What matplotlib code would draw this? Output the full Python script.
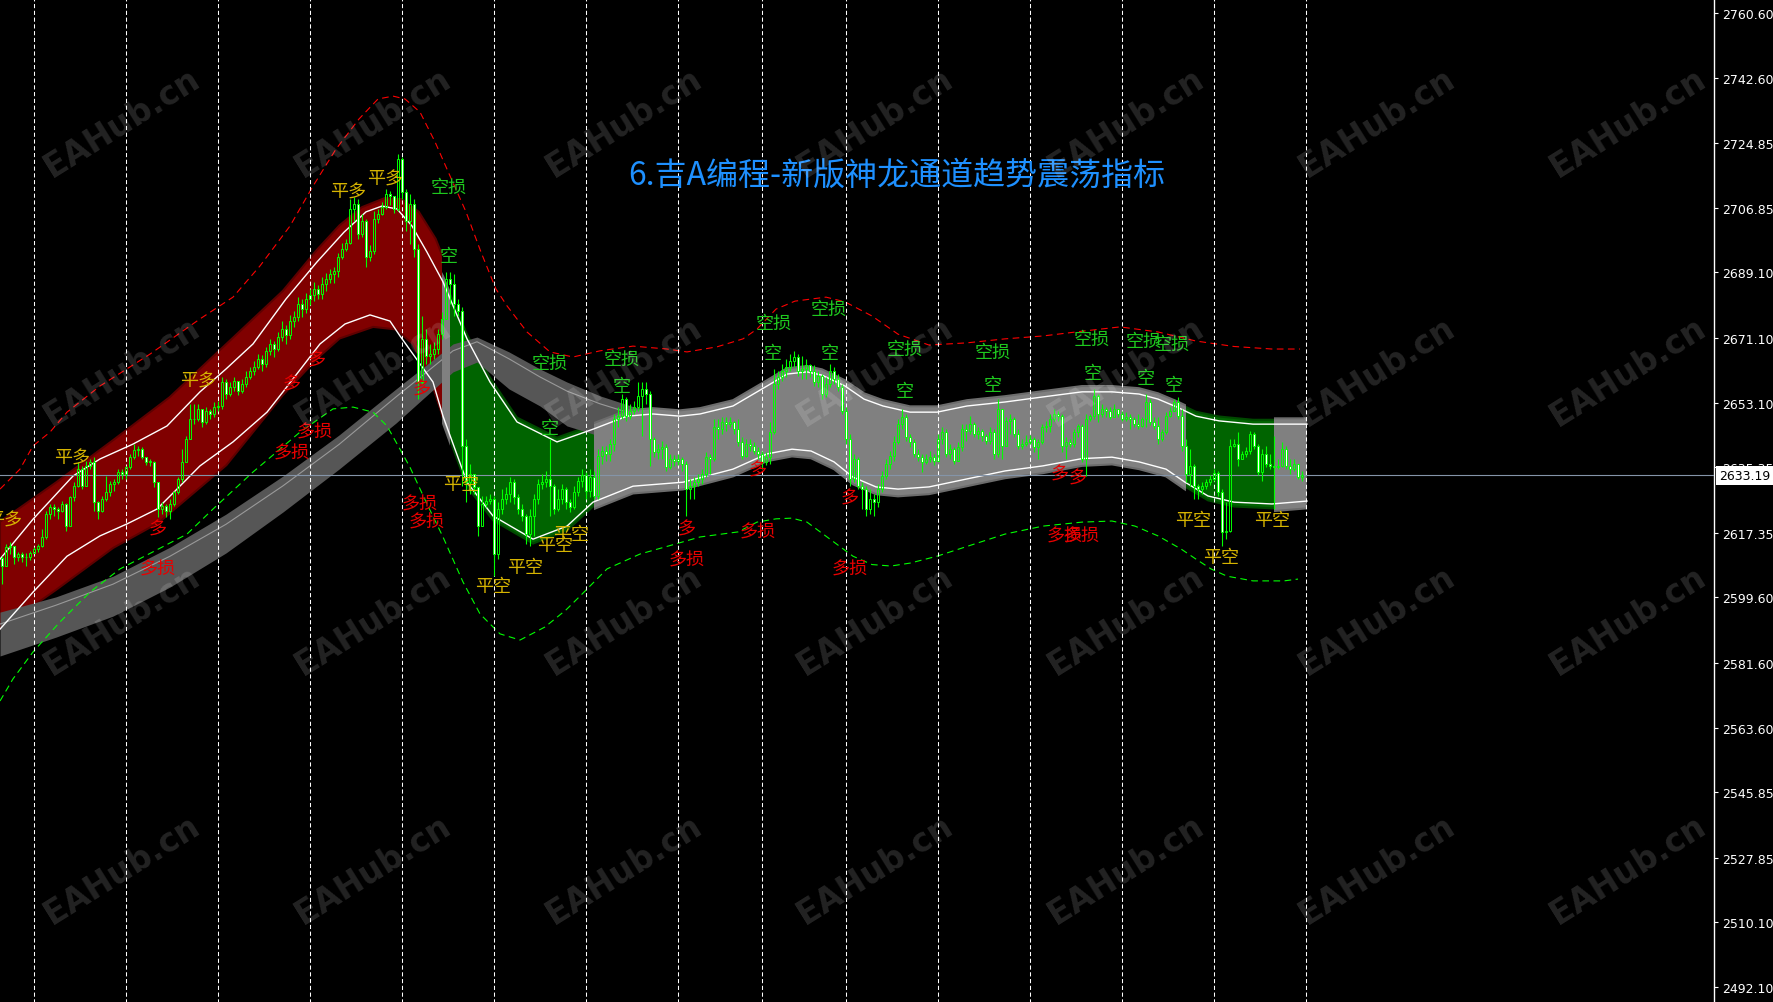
import numpy as np
import matplotlib
matplotlib.use("Agg")
import matplotlib.pyplot as plt
import matplotlib.transforms as mtransforms
from matplotlib.patches import Polygon, Rectangle

plt.rcParams['font.family'] = ['Noto Sans CJK SC', 'DejaVu Sans']

# ---------------- data (XAUUSD H1, bar index 0 = leftmost visible bar) ----------------
TITLE = "6.吉A编程-新版神龙通道趋势震荡指标"

OPEN0 = 2610.5
CLOSE = [
    2608.2, 2613.4, 2613.7, 2610.7, 2611.5, 2610.7, 2610.7, 2611.8, 2612.9, 2613.7,
    2616.2, 2622.5, 2624.4, 2623.9, 2623.3, 2625.3, 2619.2, 2627.2, 2630.2, 2634.9,
    2630.2, 2635.8, 2636.9, 2625.8, 2623.3, 2626.7, 2628.6, 2630.8, 2631.3, 2634.1,
    2633.5, 2635.4, 2638.2, 2640.2, 2640.4, 2638.2, 2636.9, 2636.9, 2631.3, 2623.9,
    2624.7, 2623.3, 2625.3, 2628.6, 2632.2, 2636.9, 2643.2, 2648.7, 2648.7, 2651.5,
    2647.9, 2650.9, 2650.1, 2652.0, 2652.3, 2658.9, 2655.6, 2657.5, 2659.2, 2656.4,
    2658.4, 2660.3, 2661.9, 2663.0, 2665.2, 2663.9, 2667.4, 2669.4, 2668.0, 2671.3,
    2673.5, 2671.9, 2675.7, 2676.8, 2680.4, 2679.0, 2681.8, 2682.9, 2684.5, 2683.2,
    2686.0, 2687.3, 2688.7, 2689.5, 2693.4, 2695.6, 2697.2, 2706.6, 2707.9, 2699.7,
    2703.3, 2693.4, 2695.0, 2703.8, 2705.2, 2707.1, 2710.7, 2710.2, 2706.6, 2720.4,
    2711.3, 2703.3, 2707.9, 2695.6, 2658.9, 2670.8, 2666.1, 2666.6, 2668.0, 2672.1,
    2676.3, 2687.3, 2686.0, 2680.4, 2678.5, 2641.3, 2631.3, 2633.5, 2630.0, 2619.2,
    2625.3, 2626.1, 2626.7, 2611.5, 2623.9, 2626.7, 2628.0, 2631.3, 2627.2, 2623.9,
    2622.0, 2617.0, 2622.0, 2626.7, 2630.8, 2631.3, 2632.2, 2630.2, 2623.9, 2626.7,
    2629.4, 2625.8, 2624.4, 2628.6, 2631.6, 2633.3, 2628.9, 2632.7, 2627.5, 2638.5,
    2639.9, 2639.1, 2641.8, 2648.7, 2649.5, 2654.2, 2649.5, 2650.9, 2652.0, 2655.1,
    2657.0, 2655.6, 2643.2, 2639.6, 2640.4, 2641.0, 2635.4, 2637.7, 2637.1, 2637.7,
    2636.3, 2629.4, 2630.2, 2631.3, 2632.2, 2633.5, 2638.2, 2637.7, 2646.5, 2645.9,
    2647.9, 2647.3, 2647.9, 2645.9, 2642.4, 2638.5, 2641.8, 2641.3, 2639.9, 2639.1,
    2636.9, 2638.2, 2645.1, 2658.4, 2660.3, 2661.9, 2663.0, 2664.7, 2665.8, 2661.9,
    2662.5, 2663.6, 2661.9, 2658.9, 2660.6, 2655.6, 2658.4, 2661.9, 2659.7, 2657.5,
    2650.9, 2643.2, 2632.2, 2637.7, 2630.2, 2629.4, 2623.9, 2626.7, 2625.8, 2629.4,
    2633.0, 2636.3, 2638.5, 2642.4, 2647.3, 2649.3, 2643.7, 2642.4, 2639.1, 2638.2,
    2636.9, 2637.7, 2638.2, 2637.1, 2643.2, 2645.1, 2639.1, 2640.4, 2637.1, 2641.0,
    2645.9, 2645.4, 2647.3, 2644.6, 2645.4, 2644.0, 2642.6, 2645.1, 2639.1, 2651.5,
    2641.3, 2648.2, 2648.7, 2644.6, 2641.3, 2641.8, 2642.4, 2643.2, 2641.0, 2642.4,
    2646.5, 2646.8, 2648.7, 2650.1, 2649.5, 2641.3, 2642.4, 2641.8, 2645.1, 2646.8,
    2637.7, 2648.7, 2649.5, 2655.1, 2650.1, 2651.5, 2650.9, 2649.3, 2651.5, 2650.1,
    2648.7, 2649.3, 2648.7, 2647.3, 2646.8, 2648.7, 2653.4, 2647.9, 2646.8, 2643.2,
    2645.1, 2649.5, 2650.9, 2653.4, 2649.5, 2641.3, 2633.5, 2635.8, 2630.2, 2629.4,
    2630.2, 2631.3, 2632.2, 2633.8, 2628.6, 2617.6, 2617.8, 2641.3, 2641.8, 2637.7,
    2639.1, 2639.9, 2644.6, 2641.3, 2634.1, 2639.1, 2636.3, 2635.8, 2635.5, 2635.8,
    2640.4, 2635.8, 2634.9, 2636.3, 2632.7, 2633.19,
]
HIGH = [
    2610.9, 2614.2, 2614.8, 2612.0, 2612.0, 2612.0, 2611.8, 2612.3, 2613.4, 2614.2,
    2618.4, 2623.3, 2625.3, 2625.3, 2624.4, 2626.1, 2625.5, 2627.5, 2631.3, 2636.9,
    2635.8, 2637.1, 2637.7, 2638.2, 2626.1, 2627.5, 2633.0, 2631.6, 2632.2, 2634.9,
    2634.9, 2635.8, 2639.1, 2641.8, 2641.3, 2641.0, 2638.2, 2637.7, 2637.1, 2630.2,
    2625.8, 2625.3, 2626.7, 2628.9, 2632.7, 2640.4, 2644.0, 2652.8, 2652.8, 2652.8,
    2651.5, 2652.0, 2651.5, 2653.4, 2653.7, 2660.3, 2659.7, 2658.9, 2660.3, 2658.4,
    2659.7, 2661.9, 2663.0, 2664.7, 2666.6, 2666.4, 2668.6, 2670.8, 2670.2, 2672.7,
    2675.7, 2674.6, 2677.4, 2678.5, 2682.3, 2681.8, 2683.4, 2684.5, 2686.5, 2685.6,
    2687.8, 2689.0, 2690.0, 2690.6, 2694.5, 2697.2, 2698.3, 2709.3, 2709.9, 2709.3,
    2705.2, 2703.8, 2696.7, 2706.0, 2706.6, 2708.5, 2712.1, 2711.5, 2709.3, 2721.7,
    2720.9, 2712.1, 2710.7, 2709.3, 2697.0, 2677.1, 2673.5, 2669.4, 2670.0, 2673.5,
    2678.2, 2689.2, 2689.2, 2688.7, 2681.8, 2679.6, 2643.2, 2636.3, 2632.2, 2629.4,
    2627.5, 2627.5, 2628.0, 2627.5, 2625.8, 2629.4, 2630.0, 2632.7, 2632.2, 2628.0,
    2625.3, 2622.5, 2623.9, 2628.0, 2632.2, 2633.5, 2634.4, 2643.2, 2630.8, 2629.4,
    2630.8, 2630.0, 2626.7, 2630.2, 2632.7, 2634.9, 2634.1, 2634.9, 2634.4, 2640.4,
    2641.3, 2641.3, 2643.2, 2650.1, 2652.0, 2655.6, 2654.8, 2652.8, 2653.7, 2658.9,
    2658.9, 2658.9, 2656.4, 2643.7, 2641.8, 2642.6, 2641.8, 2639.1, 2638.8, 2639.1,
    2638.2, 2637.1, 2632.2, 2632.7, 2633.5, 2634.9, 2639.6, 2639.1, 2648.7, 2648.7,
    2649.3, 2649.3, 2649.3, 2648.2, 2648.7, 2643.7, 2643.2, 2643.2, 2642.4, 2641.0,
    2639.9, 2639.6, 2647.9, 2662.5, 2661.9, 2663.9, 2665.2, 2666.6, 2667.4, 2666.6,
    2666.1, 2665.2, 2663.9, 2663.6, 2661.9, 2661.1, 2660.3, 2663.9, 2663.0, 2661.1,
    2658.4, 2652.0, 2644.6, 2639.1, 2638.2, 2631.3, 2630.2, 2629.4, 2628.0, 2630.8,
    2634.4, 2637.7, 2639.9, 2644.0, 2648.7, 2651.5, 2650.1, 2644.6, 2643.2, 2640.4,
    2639.1, 2639.1, 2639.9, 2639.1, 2644.6, 2646.5, 2645.9, 2641.8, 2641.0, 2642.4,
    2647.3, 2647.3, 2649.5, 2647.9, 2646.5, 2645.9, 2644.6, 2646.5, 2645.9, 2654.2,
    2648.7, 2649.3, 2650.1, 2649.3, 2645.9, 2643.2, 2644.3, 2644.3, 2643.7, 2643.2,
    2647.3, 2648.2, 2650.1, 2651.5, 2650.9, 2650.1, 2643.7, 2643.2, 2645.9, 2647.3,
    2647.3, 2650.1, 2650.1, 2657.0, 2655.6, 2652.8, 2652.0, 2652.0, 2652.8, 2651.5,
    2650.9, 2650.6, 2650.1, 2649.3, 2650.1, 2649.3, 2655.6, 2654.2, 2649.3, 2649.3,
    2645.9, 2650.6, 2652.0, 2654.2, 2654.8, 2651.5, 2643.2, 2640.4, 2636.3, 2630.8,
    2631.3, 2632.2, 2633.3, 2634.9, 2634.4, 2629.4, 2625.8, 2643.2, 2643.2, 2645.1,
    2639.9, 2641.0, 2645.4, 2645.1, 2641.8, 2640.4, 2641.3, 2639.1, 2644.0, 2637.7,
    2642.4, 2641.3, 2637.7, 2637.7, 2636.3, 2634.4,
]
LOW = [
    2603.2, 2608.2, 2611.5, 2608.7, 2609.6, 2609.3, 2608.2, 2609.8, 2611.8, 2612.0,
    2613.4, 2615.6, 2621.1, 2622.0, 2621.1, 2623.1, 2617.8, 2619.2, 2626.1, 2630.0,
    2629.4, 2631.3, 2634.9, 2623.3, 2621.1, 2623.1, 2626.1, 2627.5, 2628.9, 2630.8,
    2632.2, 2632.2, 2634.9, 2637.7, 2638.5, 2637.7, 2636.0, 2635.8, 2630.0, 2621.7,
    2622.5, 2621.7, 2621.1, 2624.7, 2628.0, 2631.3, 2636.9, 2643.2, 2647.3, 2648.2,
    2646.5, 2647.3, 2648.7, 2649.3, 2650.9, 2651.5, 2654.2, 2655.0, 2656.4, 2655.3,
    2655.9, 2657.5, 2659.7, 2660.8, 2662.5, 2661.9, 2663.0, 2666.4, 2665.8, 2667.4,
    2670.2, 2669.4, 2670.8, 2674.1, 2675.7, 2676.8, 2678.0, 2680.1, 2681.2, 2681.8,
    2681.8, 2684.0, 2686.2, 2686.2, 2687.8, 2692.8, 2695.0, 2697.0, 2703.3, 2698.3,
    2698.9, 2690.6, 2692.3, 2694.2, 2702.7, 2704.9, 2706.6, 2707.7, 2705.5, 2706.0,
    2709.3, 2700.5, 2697.0, 2693.4, 2654.2, 2658.4, 2663.9, 2663.9, 2665.2, 2666.6,
    2670.8, 2676.8, 2680.4, 2677.1, 2677.1, 2630.2, 2625.8, 2628.0, 2628.0, 2616.5,
    2619.2, 2624.4, 2625.3, 2605.4, 2610.1, 2622.5, 2625.3, 2625.8, 2625.3, 2622.5,
    2620.6, 2614.2, 2613.7, 2616.5, 2625.3, 2629.4, 2630.0, 2622.0, 2622.5, 2623.3,
    2625.3, 2623.9, 2623.1, 2623.9, 2627.5, 2630.0, 2626.7, 2627.2, 2626.7, 2626.7,
    2636.3, 2637.1, 2637.1, 2639.9, 2646.5, 2648.7, 2648.2, 2648.7, 2650.1, 2650.9,
    2644.0, 2652.8, 2635.8, 2638.2, 2637.7, 2637.7, 2634.4, 2634.9, 2635.8, 2636.0,
    2634.4, 2622.0, 2626.7, 2626.7, 2630.2, 2630.8, 2632.7, 2633.5, 2637.1, 2643.2,
    2644.6, 2645.4, 2646.5, 2644.6, 2641.3, 2637.7, 2638.2, 2639.9, 2639.1, 2637.7,
    2634.9, 2636.0, 2636.3, 2644.6, 2657.0, 2659.2, 2660.3, 2661.9, 2663.0, 2660.6,
    2659.7, 2659.7, 2660.3, 2657.8, 2657.5, 2654.2, 2654.8, 2657.5, 2658.4, 2656.4,
    2650.1, 2641.8, 2630.2, 2631.3, 2629.4, 2623.9, 2622.0, 2622.5, 2622.0, 2624.4,
    2628.6, 2632.2, 2634.9, 2637.1, 2641.8, 2645.9, 2642.6, 2641.0, 2638.2, 2637.1,
    2634.1, 2636.3, 2636.9, 2636.0, 2637.1, 2641.8, 2638.2, 2637.7, 2636.3, 2637.1,
    2639.9, 2642.6, 2644.6, 2643.7, 2643.2, 2642.6, 2641.8, 2641.8, 2637.7, 2638.2,
    2637.7, 2641.3, 2644.6, 2643.7, 2640.4, 2640.4, 2641.3, 2641.8, 2639.6, 2637.7,
    2641.8, 2645.1, 2645.1, 2648.2, 2648.2, 2639.6, 2637.7, 2641.0, 2641.0, 2643.7,
    2636.9, 2633.0, 2648.2, 2648.7, 2647.9, 2649.3, 2649.3, 2648.7, 2650.1, 2649.3,
    2648.2, 2648.2, 2645.9, 2646.5, 2645.9, 2646.5, 2646.5, 2647.1, 2645.9, 2641.8,
    2642.6, 2644.6, 2649.3, 2650.9, 2648.7, 2639.9, 2631.3, 2630.2, 2626.7, 2626.7,
    2628.0, 2629.4, 2630.5, 2631.6, 2627.5, 2613.7, 2615.6, 2617.6, 2641.0, 2635.8,
    2637.7, 2638.2, 2639.1, 2640.4, 2633.3, 2631.6, 2635.5, 2634.9, 2623.9, 2634.9,
    2635.5, 2634.9, 2633.5, 2634.4, 2632.2, 2631.6,
]

# channel middle band (white lines)
UP_X = [-0.5, 7.75, 17.75, 24.5, 32.75, 41.25, 49.5, 56, 62.75, 71, 78.75, 85.5, 91, 95,
        98.75, 102.5, 106.25, 110.25, 116.25, 122, 128.75, 138.75, 147.75, 156.25, 162.75,
        169.5, 174.5, 182.75, 191.25, 196.25, 201.25, 205, 210.75, 215.5, 220.25, 227,
        233.75, 241.25, 250.75, 260.25, 270, 277.5, 284.25, 289, 293.75, 298.5, 304.25,
        312.75, 326.25]
UP_P = [2610.1, 2621.1, 2633.0, 2637.7, 2641.8, 2646.8, 2656.2, 2662.5, 2669.4, 2681.8,
        2692.0, 2700.2, 2705.8, 2707.4, 2706.6, 2701.9, 2694.7, 2686.5, 2670.8, 2658.9,
        2647.9, 2642.4, 2645.9, 2649.5, 2650.1, 2649.5, 2650.1, 2652.3, 2657.8, 2661.1,
        2661.7, 2660.8, 2657.8, 2654.2, 2652.3, 2650.6, 2650.6, 2652.3, 2653.4, 2654.8,
        2656.2, 2656.2, 2655.6, 2654.2, 2652.0, 2649.5, 2648.2, 2647.3, 2647.3]
LO_X = [-0.5, 7.75, 16.25, 24.5, 31.25, 38.75, 43.75, 49.5, 57.75, 66.25, 70.25, 79.5,
        85.75, 92, 97, 99.5, 107.75, 110.25, 116.25, 122.75, 132.75, 141.25, 147.75,
        157.75, 170.25, 182.75, 191.25, 197.5, 202.25, 208, 212.75, 218.5, 224, 231.75,
        241.25, 250.75, 260.25, 270, 277.5, 284.25, 291, 295.75, 301.5, 308, 317.5, 326.25]
LO_P = [2590.8, 2601.0, 2610.9, 2616.5, 2619.8, 2623.9, 2629.4, 2635.8, 2642.4, 2650.6,
        2656.2, 2669.4, 2674.9, 2677.4, 2675.7, 2671.6, 2658.9, 2649.5, 2631.3, 2622.0,
        2615.6, 2619.2, 2625.8, 2630.2, 2631.3, 2634.9, 2639.1, 2640.4, 2639.9, 2636.9,
        2632.7, 2630.0, 2629.4, 2630.0, 2632.2, 2634.4, 2635.8, 2637.8, 2638.2, 2636.9,
        2634.9, 2631.3, 2627.5, 2625.8, 2625.3, 2626.1]

# outline of the red (up-trend) fill, which is wider than the white lines
RED_X = [-0.5, 13.6, 27.8, 41.9, 56.1, 70.2, 78.7, 84.4, 90, 95.7, 99.9, 104.2, 108.4, 112.1]
RED_TOP = [2620.4, 2631.3, 2642.9, 2654.7, 2669.4, 2684.0, 2695.3, 2702.1, 2707.1, 2709.6,
           2709.3, 2705.8, 2698.4, 2688.1]
REDB_X = [-0.5, 13.6, 27.8, 39.1, 56.1, 70.2, 78.7, 84.4, 92.8, 98.5, 102.7, 107, 109.8, 112.1]
RED_BOT = [2590.8, 2601.7, 2613.2, 2620.1, 2636.0, 2655.3, 2665.3, 2670.9, 2674.1, 2673.4,
           2669.4, 2660.0, 2650.7, 2641.3]

# trend state of the band fill
SEG_START = [-0.5, 110, 112, 148, 296, 318]
SEG_END = [110, 112, 148, 296, 318, 326.25]
SEG_STATE = ['up', 'flat', 'down', 'flat', 'down', 'flat']

# outer bands (dashed)
RU_X = [-0.5, 4.5, 7.75, 12, 16.25, 24.5, 37, 49.5, 57.75, 64.5, 72, 77.75, 83.5, 89.25,
        94, 97.75, 100.75, 104.5, 108.25, 112, 116, 119.75, 123.5, 126.25, 131.25, 137,
        142.75, 149.5, 157.75, 166.25, 171.25, 178.75, 185.25, 188.75, 193.5, 198.25, 206,
        210.75, 217.5, 224, 231.75, 241.25, 250.75, 260.25, 270, 279.5, 289, 298.5, 308,
        317.5, 324.5]
RU_P = [2629.4, 2634.9, 2641.3, 2645.1, 2650.6, 2657.8, 2666.6, 2676.3, 2682.3, 2690.9,
        2701.9, 2712.9, 2723.1, 2731.4, 2736.9, 2737.7, 2736.9, 2733.3, 2725.1, 2715.7,
        2705.8, 2694.7, 2684.5, 2679.9, 2672.7, 2667.2, 2665.8, 2667.5, 2668.8, 2668.0,
        2667.2, 2668.6, 2670.8, 2673.5, 2679.0, 2681.2, 2682.3, 2681.0, 2677.1, 2672.1,
        2669.1, 2669.7, 2670.8, 2671.6, 2672.9, 2674.1, 2672.7, 2670.2, 2668.7, 2668.0,
        2668.0]
RL_X = [-0.5, 2.75, 7.75, 14.5, 22, 29.5, 37.75, 46.25, 52.75, 62.75, 74.5, 82.75, 87.75,
        92.75, 96.25, 99.5, 102, 106.25, 110.25, 115.25, 119.5, 124.5, 129.5, 135.75, 141,
        144.5, 151.25, 159.5, 166.25, 174.5, 184, 188.75, 193.5, 197.5, 201.25, 207,
        212.75, 217.5, 222.25, 227, 233.75, 241.25, 250.75, 260.25, 270, 277.5, 283.25,
        289, 294.75, 298.5, 302.25, 306.25, 312.75, 320.5, 324]
RL_P = [2571.0, 2577.1, 2584.5, 2592.8, 2601.0, 2607.4, 2612.1, 2617.0, 2623.9, 2634.1,
        2645.1, 2651.5, 2652.0, 2650.6, 2646.8, 2640.4, 2635.4, 2625.3, 2616.2, 2603.8,
        2595.0, 2589.5, 2587.8, 2591.4, 2596.1, 2599.9, 2607.4, 2611.5, 2613.6, 2616.2,
        2617.6, 2620.3, 2621.2, 2621.4, 2620.3, 2615.6, 2610.9, 2608.6, 2608.2, 2609.0,
        2610.9, 2613.6, 2617.0, 2619.2, 2620.3, 2620.6, 2619.2, 2616.5, 2612.9, 2610.1,
        2607.4, 2605.4, 2604.1, 2604.1, 2604.6]

# slow band (dark grey ribbon)
SLOW_X = [-0.5, 13.5, 27.75, 42, 56, 70.25, 84.25, 98.5, 112.75, 118.75, 126.75, 134.5,
          141.25, 149.5, 159.5, 174.5]
SLOW_TOP = [2595.5, 2599.7, 2605.4, 2613.4, 2622.5, 2633.0, 2644.3, 2657.0, 2669.4, 2671.3,
            2667.2, 2662.5, 2658.9, 2655.1, 2651.5, 2649.3]
SLOW_BOT = [2583.4, 2588.6, 2594.4, 2602.4, 2611.8, 2623.1, 2634.9, 2647.6, 2661.7, 2664.4,
            2657.0, 2652.3, 2646.8, 2644.0, 2641.8, 2640.4]
SLOW_MID = [2592.2, 2597.4, 2603.2, 2610.9, 2619.7, 2630.3, 2641.7, 2654.8, 2667.5, 2670.0,
            2665.3, 2660.3, 2656.4, 2652.9, 2649.5, 2647.3]

# signal labels
SIG_X = [0.6, 17.5, 39, 39, 49, 72.5, 78.75, 78.25, 72.5, 86.5, 95.75, 111.75, 111.75, 105,
         104.5, 106.25, 114.75, 137, 137, 155, 155, 122.75, 130.75, 138.25, 142.25, 171.25,
         171.25, 189, 189, 193, 192.75, 206.75, 207, 225.75, 225.75, 212, 212, 247.75,
         247.75, 264.5, 269, 265.75, 270, 272.5, 272.75, 285.5, 292.5, 286, 293, 297.75,
         317.5, 304.75]
SIG_P = [2620.9, 2638.2, 2618.4, 2607.4, 2659.2, 2658.4, 2665.2, 2645.4, 2639.6, 2711.3,
         2714.9, 2712.7, 2693.6, 2657.0, 2625.3, 2620.6, 2630.8, 2646.2, 2664.1, 2665.3,
         2657.8, 2602.7, 2607.9, 2614.0, 2617.0, 2618.4, 2609.9, 2617.6, 2634.7, 2675.2,
         2666.9, 2679.0, 2666.9, 2668.0, 2656.4, 2627.2, 2607.4, 2667.2, 2658.1, 2633.6,
         2632.7, 2616.7, 2616.7, 2670.8, 2661.4, 2670.2, 2669.4, 2660.0, 2658.1, 2620.9,
         2620.9, 2610.7]
SIG_T = ['平多', '平多', '多', '多损', '平多', '多', '多', '多损', '多损', '平多', '平多',
         '空损', '空', '多', '多损', '多损', '平空', '空', '空损', '空损', '空', '平空', '平空',
         '平空', '平空', '多', '多损', '多损', '多', '空损', '空', '空损', '空', '空损', '空',
         '多', '多损', '空损', '空', '多', '多', '多损', '多损', '空损', '空', '空损', '空损',
         '空', '空', '平空', '平空', '平空']

# day separators (bar index) and price scale labels
GRID_BARS = [8, 31, 54, 77, 100, 123, 146, 169, 190, 211, 234, 257, 280, 303, 326]
YTICKS = [2760.60, 2742.60, 2724.85, 2706.85, 2689.10, 2671.10, 2653.10, 2635.35,
          2617.35, 2599.60, 2581.60, 2563.60, 2545.85, 2527.85, 2510.10, 2492.10]

# ---------------- figure ----------------
W, H = 1774, 1003
fig = plt.figure(figsize=(W / 100, H / 100), dpi=100, facecolor='black')
ax = fig.add_axes([0, 0, 1714 / W, 1], facecolor='black')
ax.set_xlim(-0.5, 428)
ax.set_ylim(2488.05, 2764.46)

# band fill, coloured by trend state
fill_style = {
    'up': ('#800000', '#5e0000', 1),
    'down': ('#006400', '#004800', 1),
    'flat': ('#808080', '#6c6c6c', 3),
}
pads = {'down': (1.2, 1.2), 'flat': (1.6, 2.0)}
up = np.array(UP_P)
lo = np.array(LO_P)
for x0, x1, st in zip(SEG_START, SEG_END, SEG_STATE):
    fc, ec, z = fill_style[st]
    if st == 'up':
        verts = np.r_[np.c_[RED_X, RED_TOP], np.c_[REDB_X[::-1], RED_BOT[::-1]]]
    else:
        pt, pb = pads[st]
        verts = np.r_[np.c_[UP_X, up + pt], np.c_[LO_X[::-1], (lo - pb)[::-1]]]
    poly = Polygon(verts, closed=True, fc=fc, ec=ec, lw=1.5, zorder=z)
    ax.add_patch(poly)
    poly.set_clip_path(Rectangle((x0, 2400), x1 - x0, 500, transform=ax.transData))

ax.fill_between(SLOW_X, SLOW_BOT, SLOW_TOP, color='#565656', lw=0, zorder=2)
ax.plot(SLOW_X, SLOW_MID, color='#9a9a9a', lw=0.8, zorder=2.1)

ax.plot(UP_X, UP_P, color='white', lw=1.0, zorder=3.5)
ax.plot(LO_X, LO_P, color='white', lw=1.0, zorder=3.5)
ax.plot(RU_X, RU_P, color='#ff0000', lw=0.8, ls=(0, (6, 4)), zorder=3.5)
ax.plot(RL_X, RL_P, color='#00ff00', lw=0.8, ls=(0, (6, 4)), zorder=3.5)

ax.vlines(GRID_BARS, 2480, 2770, colors='white', lw=0.75, linestyles=(0, (4, 2.5)), zorder=4)
ax.axhline(CLOSE[-1], color='#8494a8', lw=0.8, zorder=4.5)

# candles
close = np.array(CLOSE)
opens = np.r_[OPEN0, close[:-1]]
bars = np.arange(len(close))
body_lo = np.minimum(opens, close)
body_hi = np.maximum(opens, close)
ax.vlines(bars, body_hi, np.maximum(HIGH, body_hi), color='#00ff00', lw=0.8, zorder=5)
ax.vlines(bars, np.minimum(LOW, body_lo), body_lo, color='#00ff00', lw=0.8, zorder=5)
body_h = np.maximum(body_hi - body_lo, 0.12)
bear = close < opens
ax.bar(bars[bear], body_h[bear], bottom=body_lo[bear], width=0.5, facecolor='white',
       edgecolor='#00ff00', lw=0.7, zorder=6)
ax.bar(bars[~bear], body_h[~bear], bottom=body_lo[~bear], width=0.5, facecolor='none',
       edgecolor='#00ff00', lw=0.7, zorder=6)

# signal labels
label_colors = {'平': '#d6b400', '空': '#1ec81e', '多': '#e80000'}
for x, p, t in zip(SIG_X, SIG_P, SIG_T):
    ax.text(x, p, t, color=label_colors[t[0]], fontsize=13, ha='center', va='center',
            family='Noto Sans CJK SC', zorder=7)

ax.text(628 / 1714, 1 - 176 / H, TITLE, transform=ax.transAxes, color='#1e90ff',
        fontsize=23, ha='left', va='center', family='Noto Sans CJK SC', zorder=8)

# price scale
ax.yaxis.tick_right()
ax.set_yticks(YTICKS)
ax.set_yticklabels([f'{v:.2f}' for v in YTICKS])
ax.tick_params(axis='y', colors='white', length=3, width=0.8, pad=3, labelsize=9,
               labelfontfamily='DejaVu Sans', direction='out')
ax.set_xticks([])
for s in ['left', 'top', 'bottom']:
    ax.spines[s].set_visible(False)
ax.spines['right'].set_color('white')
ax.spines['right'].set_linewidth(1.0)

trans = mtransforms.blended_transform_factory(ax.transAxes, ax.transData)
ax.annotate(f'{CLOSE[-1]:.2f}', xy=(1.0, CLOSE[-1]), xycoords=trans, xytext=(4, 0),
            textcoords='offset points', ha='left', va='center', color='black', fontsize=9,
            family='DejaVu Sans', annotation_clip=False, zorder=20,
            bbox=dict(boxstyle='square,pad=0.25', fc='white', ec='none'))

# watermark
for cx in range(7):
    for cy in range(4):
        fig.text((122 + 251 * cx) / W, 1 - (123 + 249 * cy) / H, 'EAHub.cn', rotation=32,
                 rotation_mode='anchor', ha='center', va='center', fontsize=23.5,
                 fontweight='bold', family='DejaVu Sans', color=(1, 1, 1, 0.14), zorder=30)

fig.savefig('out.png', dpi=100, facecolor='black')
